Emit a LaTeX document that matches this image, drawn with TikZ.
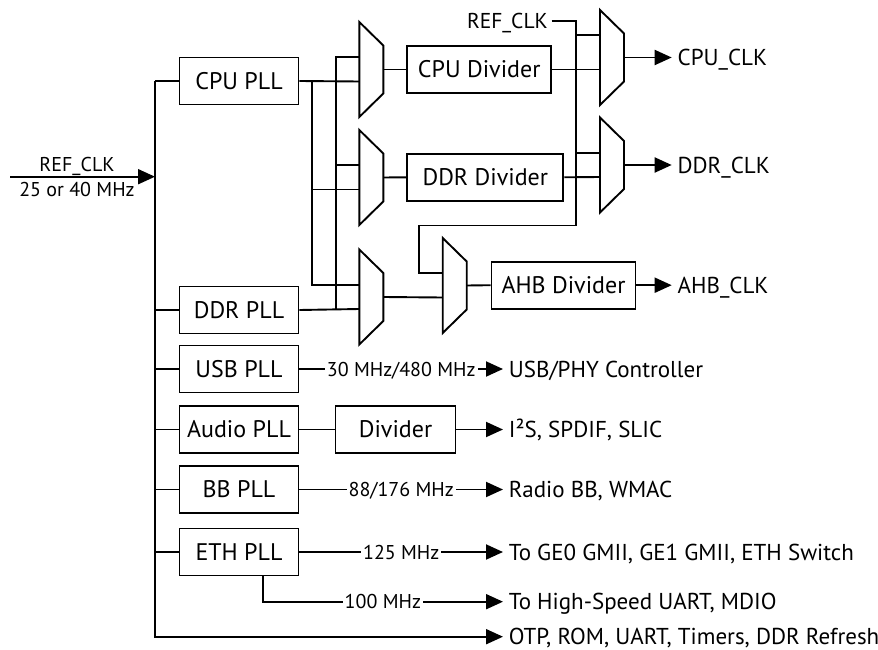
\documentclass[tikz,border=0pt]{standalone}
\usepackage{fontspec}
\setmainfont{PT Sans}
\usetikzlibrary{arrows.meta}
\newcommand\fsbox{\fontsize{24}{28}\selectfont}
\newcommand\fsout{\fontsize{23}{27}\selectfont}
\newcommand\fssmall{\fontsize{20}{24}\selectfont}
\newcommand\fsref{\fontsize{21.5}{25}\selectfont}
\begin{document}
\begin{tikzpicture}[x=1pt,y=-1pt,line width=1.9pt,
  >={Triangle[length=17pt,width=15pt]},
  box/.style={draw, inner sep=0pt, minimum height=47pt, text height=16.5pt, text depth=0pt, font=\fsbox},
  outtxt/.style={anchor=west, inner xsep=5pt, inner ysep=0pt, text height=16pt, text depth=0pt, font=\fsout},
  lbl/.style={fill=white, inner xsep=2pt, inner ysep=1pt, text height=14pt, text depth=0pt, font=\fssmall},
  pics/mux/.style={code={
    \draw (0,0) -- (24,23.5) -- (24,71.5) -- (0,95) -- cycle;
    \coordinate (-a) at (0,#1);
    \coordinate (-b) at (0,59.5);
    \coordinate (-o) at (24,47.5);}}]
\useasboundingbox (0,0) rectangle (878,650);

% PLL boxes
\node[box, minimum width=119pt] (cpupll) at (239,81) {CPU PLL};
\node[box, minimum width=119pt] (ddrpll) at (239,310) {DDR PLL};
\node[box, minimum width=119pt] (usbpll) at (239,369) {USB PLL};
\node[box, minimum width=119pt] (audiopll) at (239,429.5) {Audio PLL};
\node[box, minimum width=119pt] (bbpll) at (239,489.5) {BB PLL};
\node[box, minimum width=119pt] (ethpll) at (239,552) {ETH PLL};

% dividers
\node[box, minimum width=144pt] (cpudiv) at (479.2,69.5) {CPU Divider};
\node[box, minimum width=156pt] (ddrdiv) at (485.3,177.3) {DDR Divider};
\node[box, minimum width=144pt] (ahbdiv) at (563.5,285.2) {AHB Divider};
\node[box, minimum width=120pt] (divider) at (395.5,429.5) {Divider};

% muxes
\pic (m1) at (359.3,22) {mux=35};
\pic (m2) at (359.3,130) {mux=35};
\pic (m3) at (359.3,249.5) {mux=35.5};
\pic (m4) at (442.7,238) {mux=34.7};
\pic (m5) at (600,10) {mux=25};
\pic (m6) at (600,117.5) {mux=35.5};

% outputs
\node[outtxt] (cpuclk) at (671.7,57.5) {CPU\_CLK};
\node[outtxt] (ddrclk) at (671.7,165) {DDR\_CLK};
\node[outtxt] (ahbclk) at (671.7,285.2) {AHB\_CLK};
\node[outtxt] (usbout) at (503,369) {USB/PHY Controller};
\node[outtxt] (i2sout) at (503,429.5) {I²S, SPDIF, SLIC};
\node[outtxt] (bbout) at (503,489.5) {Radio BB, WMAC};
\node[outtxt] (geout) at (503,552) {To GE0 GMII, GE1 GMII, ETH Switch};
\node[outtxt] (hsout) at (503,601.7) {To High-Speed UART, MDIO};
\node[outtxt] (otpout) at (503,636.7) {OTP, ROM, UART, Timers, DDR Refresh};

% reference clock input
\coordinate (refin) at (10,176.7);
\coordinate (bustop) at (155,81);
\coordinate (busbot) at (155,636.7);
\draw[->] (refin) -- (refin -| bustop);
\node[font=\fssmall, anchor=base, inner sep=0pt] (reflbl) at (77,171.7) {REF\_CLK};
\node[font=\fssmall, anchor=base, inner sep=0pt] (freqlbl) at (77,196.7) {25 or 40 MHz};

% bus and PLL stubs
\draw[->] (bustop) -- (busbot) -- (otpout.west);
\foreach \p in {cpupll,ddrpll,usbpll,audiopll,bbpll,ethpll}
  \draw (\p.west) -- (\p.west -| bustop);

% PLL to mux network
\coordinate (va) at (311.7,0);
\coordinate (vb) at (335.7,0);
\draw (cpupll.east) -- (m1-b);
\draw (ddrpll.east) -- (m3-b);
\draw (va |- m1-b) -- (va |- m3-a) -- (m3-a);
\draw (va |- m2-b) -- (m2-b);
\draw (vb |- m3-b) -- (vb |- m1-a) -- (m1-a);
\draw (vb |- m2-a) -- (m2-a);

\draw (m1-o) -- (cpudiv.west);
\draw (m2-o) -- (ddrdiv.west);
\draw (m3-o) -- (m4-b);
\draw (m4-o) -- (ahbdiv.west);

% REF_CLK bypass
\node[font=\fsref, anchor=east, inner xsep=3pt, inner ysep=0pt, text height=15pt, text depth=0pt] (reftop) at (551.7,21) {REF\_CLK};
\coordinate (rc) at (576,21);
\coordinate (loopR) at (576,225.5);
\coordinate (loopL) at (419.3,225.5);
\draw (reftop.east) -- (rc) -- (loopR) -- (loopL) -- (loopL |- m4-a) -- (m4-a);
\draw (rc |- m5-a) -- (m5-a);
\draw (rc |- m6-a) -- (m6-a);
\draw (cpudiv.east) -- (m5-b);
\draw (ddrdiv.east) -- (m6-b);

\draw[->] (m5-o) -- (cpuclk.west);
\draw[->] (m6-o) -- (ddrclk.west);
\draw[->] (ahbdiv.east) -- (ahbclk.west);

% lower PLL outputs
\draw[->] (usbpll.east) -- node[lbl] {30 MHz/480 MHz} (usbout.west);
\draw (audiopll.east) -- (divider.west);
\draw[->] (divider.east) -- (i2sout.west);
\draw[->] (bbpll.east) -- node[lbl] {88/176 MHz} (bbout.west);
\draw[->] (ethpll.east) -- node[lbl] {125 MHz} (geout.west);
\coordinate (ethdn) at (262.7,601.7);
\draw[->] (ethpll.south -| ethdn) -- (ethdn) -- node[lbl] {100 MHz} (hsout.west);
\end{tikzpicture}
\end{document}
